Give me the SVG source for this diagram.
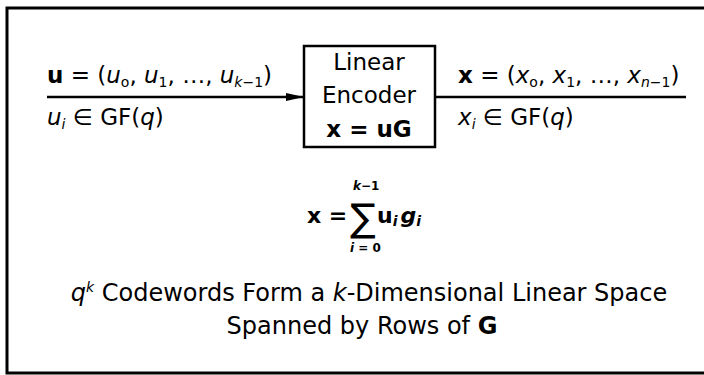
<svg xmlns="http://www.w3.org/2000/svg" width="704" height="375" viewBox="0 0 704 375">
<style>
.t{font-family:"DejaVu Sans","Liberation Sans",Arial,sans-serif;font-size:23px;fill:#000}
.cap{font-size:24px}
.it{font-style:italic}
.b{font-weight:bold}
.s{font-size:14px}
.xs{font-size:12px}
.ln{stroke:#000;stroke-width:2.5;fill:none}
</style>
<defs>
<marker id="ah" markerWidth="18" markerHeight="10" refX="17" refY="5" orient="auto" markerUnits="userSpaceOnUse">
<path d="M0,1 L18,5 L0,9 Z" fill="#000"/>
</marker>
</defs>
<rect x="7" y="8" width="730" height="365" fill="none" stroke="#000" stroke-width="3"/>
<g id="encoder">
<rect x="304" y="46" width="131" height="101" fill="#fff" stroke="#000" stroke-width="2.5"/>
<text class="t" x="369" y="70" text-anchor="middle">Linear</text>
<text class="t" x="369" y="103" text-anchor="middle">Encoder</text>
<text class="t b" x="369" y="137" text-anchor="middle">x = uG</text>
</g>
<g id="connectors">
<line class="ln" x1="47" y1="97" x2="303" y2="97" marker-end="url(#ah)"/>
<line class="ln" x1="435" y1="97" x2="686" y2="97"/>
</g>
<g id="input-labels">
<text class="t" x="47" y="83"><tspan class="b">u</tspan> = (<tspan class="it">u</tspan><tspan class="s" dy="4">o</tspan><tspan dy="-4">, </tspan><tspan class="it">u</tspan><tspan class="s" dy="4">1</tspan><tspan dy="-4">, …, </tspan><tspan class="it">u</tspan><tspan class="s" dy="4"><tspan class="it">k</tspan>−1</tspan><tspan dy="-4">)</tspan></text>
<text class="t" x="47" y="125"><tspan class="it">u</tspan><tspan class="s it" dy="4">i</tspan><tspan dy="-4"> ∈ GF(</tspan><tspan class="it">q</tspan>)</text>
</g>
<g id="output-labels">
<text class="t" x="458" y="83"><tspan class="b">x</tspan> = (<tspan class="it">x</tspan><tspan class="s" dy="4">o</tspan><tspan dy="-4">, </tspan><tspan class="it">x</tspan><tspan class="s" dy="4">1</tspan><tspan dy="-4">, …, </tspan><tspan class="it">x</tspan><tspan class="s" dy="4"><tspan class="it">n</tspan>−1</tspan><tspan dy="-4">)</tspan></text>
<text class="t" x="458" y="125"><tspan class="it">x</tspan><tspan class="s it" dy="4">i</tspan><tspan dy="-4"> ∈ GF(</tspan><tspan class="it">q</tspan>)</text>
</g>
<g id="formula">
<text class="t b" x="307" y="223" style="font-size:22px">x =</text>
<text class="t" x="350" y="231" style="font-size:38px">∑</text>
<text class="t b xs" x="353" y="190"><tspan class="it">k</tspan>−1</text>
<text class="t b xs" x="350" y="252"><tspan class="it">i</tspan> = 0</text>
<text class="t b" x="377" y="223" style="font-size:22px">u<tspan class="s it" dy="3">i</tspan><tspan class="it" dy="-3" dx="3">g</tspan><tspan class="s it" dy="3">i</tspan></text>
</g>
<g id="caption">
<text class="t cap" x="369" y="301" text-anchor="middle"><tspan class="it">q</tspan><tspan class="s it" dy="-9">k</tspan><tspan dy="9"> Codewords Form a </tspan><tspan class="it">k</tspan>-Dimensional Linear Space</text>
<text class="t cap" x="362" y="334" text-anchor="middle">Spanned by Rows of <tspan class="b">G</tspan></text>
</g>
</svg>
